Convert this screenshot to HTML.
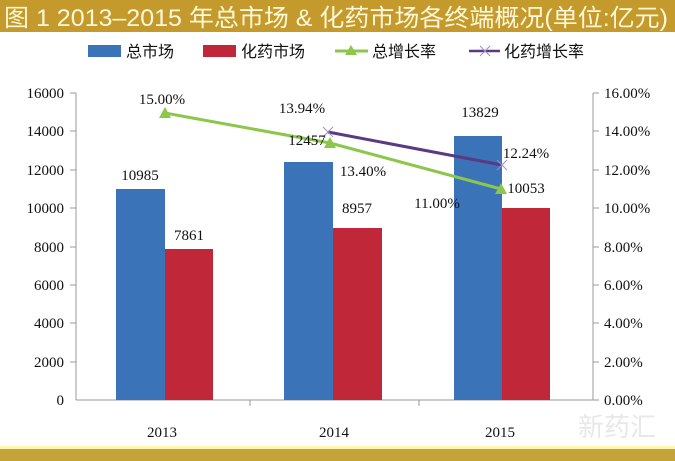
<!DOCTYPE html>
<html><head><meta charset="utf-8"><style>
body{margin:0;width:675px;height:461px;overflow:hidden;background:#fff}
svg{display:block}
text{font-family:"Liberation Serif","Noto Serif CJK SC",serif;font-size:15px;fill:#111}
.cj{font-family:"Liberation Sans","Noto Sans CJK SC",sans-serif}
</style></head><body>
<svg width="675" height="461" viewBox="0 0 675 461">
<rect x="0" y="0" width="675" height="32" fill="#c49a2c"/>
<text x="4" y="26" class="cj" textLength="664" lengthAdjust="spacingAndGlyphs" style="font-size:24px;fill:#fff8d8">图 1 2013–2015 年总市场 &amp; 化药市场各终端概况(单位:亿元)</text>
<rect x="0" y="449" width="675" height="12" fill="#c4a43a"/>
<rect x="0" y="446" width="675" height="3" fill="#fff5b0"/>
<!-- legend -->
<rect x="88" y="45" width="33" height="12" fill="#3a73b8"/>
<text x="126" y="57" class="cj" style="font-size:16px">总市场</text>
<rect x="203" y="45" width="33" height="12" fill="#c0283a"/>
<text x="241" y="57" class="cj" style="font-size:16px">化药市场</text>
<line x1="335" y1="51" x2="368" y2="51" stroke="#8cc64a" stroke-width="3"/>
<polygon points="351,45 357,55 345,55" fill="#8cc64a"/>
<text x="372" y="57" class="cj" style="font-size:16px">总增长率</text>
<line x1="469" y1="51" x2="500" y2="51" stroke="#5a3a80" stroke-width="2.5"/>
<path d="M480,46 L490,56 M490,46 L480,56" stroke="#a090c0" stroke-width="1"/>
<text x="504" y="57" class="cj" style="font-size:16px">化药增长率</text>
<!-- axes -->
<g stroke="#999" stroke-width="1">
<line x1="76" y1="93" x2="76" y2="400"/>
<line x1="76" y1="400" x2="593" y2="400"/>
<line x1="593" y1="93" x2="593" y2="400"/>
<line x1="250" y1="400" x2="250" y2="406"/>
<line x1="419" y1="400" x2="419" y2="406"/>
<line x1="70" y1="93" x2="76" y2="93"/><line x1="70" y1="131" x2="76" y2="131"/><line x1="70" y1="170" x2="76" y2="170"/><line x1="70" y1="208" x2="76" y2="208"/><line x1="70" y1="247" x2="76" y2="247"/><line x1="70" y1="285" x2="76" y2="285"/><line x1="70" y1="323" x2="76" y2="323"/><line x1="70" y1="362" x2="76" y2="362"/>
<line x1="593" y1="93" x2="599" y2="93"/><line x1="593" y1="131" x2="599" y2="131"/><line x1="593" y1="170" x2="599" y2="170"/><line x1="593" y1="208" x2="599" y2="208"/><line x1="593" y1="247" x2="599" y2="247"/><line x1="593" y1="285" x2="599" y2="285"/><line x1="593" y1="323" x2="599" y2="323"/><line x1="593" y1="362" x2="599" y2="362"/><line x1="593" y1="400" x2="599" y2="400"/>
</g>
<g text-anchor="end">
<text x="64" y="98">16000</text><text x="64" y="136">14000</text><text x="64" y="175">12000</text><text x="64" y="213">10000</text><text x="64" y="252">8000</text><text x="64" y="290">6000</text><text x="64" y="328">4000</text><text x="64" y="367">2000</text><text x="64" y="405">0</text>
</g>
<g>
<text x="604" y="98">16.00%</text><text x="604" y="136">14.00%</text><text x="604" y="175">12.00%</text><text x="604" y="213">10.00%</text><text x="604" y="252">8.00%</text><text x="604" y="290">6.00%</text><text x="604" y="328">4.00%</text><text x="604" y="367">2.00%</text><text x="604" y="405">0.00%</text>
</g>
<!-- bars -->
<rect x="116" y="189" width="49" height="211" fill="#3a73b8"/>
<rect x="165" y="249" width="48" height="151" fill="#c0283a"/>
<rect x="284" y="162" width="49" height="238" fill="#3a73b8"/>
<rect x="333" y="228" width="49" height="172" fill="#c0283a"/>
<rect x="454" y="136" width="48" height="264" fill="#3a73b8"/>
<rect x="502" y="208" width="48" height="192" fill="#c0283a"/>
<!-- lines -->
<polyline points="165,113 330,143 501,189" fill="none" stroke="#8cc64a" stroke-width="3"/>
<polygon points="165,107 171,118 159,118" fill="#8cc64a"/>
<polygon points="330,137 336,148 324,148" fill="#8cc64a"/>
<polygon points="501,183 507,194 495,194" fill="#8cc64a"/>
<polyline points="328,132 502,165" fill="none" stroke="#5a3a80" stroke-width="3"/>
<path d="M323,127 L333,137 M333,127 L323,137 M497,160 L507,170 M507,160 L497,170" stroke="#a090c0" stroke-width="1"/>
<!-- labels -->
<g text-anchor="middle">
<text x="140" y="180">10985</text><text x="189" y="240">7861</text>
<text x="162" y="104">15.00%</text>
<text x="302" y="113">13.94%</text>
<text x="307" y="145">12457</text>
<text x="363" y="176">13.40%</text>
<text x="357" y="213">8957</text>
<text x="437" y="208">11.00%</text>
<text x="480" y="117">13829</text>
<text x="526" y="158">12.24%</text>
<text x="526" y="193">10053</text>
<text x="162" y="437">2013</text><text x="334" y="437">2014</text><text x="500" y="437">2015</text>
</g>
<text x="578" y="436" class="cj" style="font-size:26px;fill:#e8e8e8">新药汇</text>
</svg>
</body></html>
